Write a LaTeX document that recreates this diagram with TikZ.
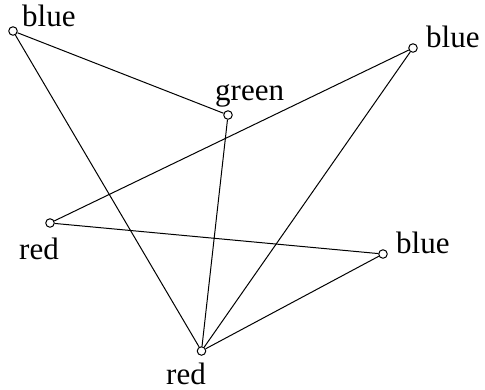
\documentclass[tikz,border=0pt]{standalone}
\usepackage{fontspec}
\setmainfont{Liberation Serif}
\begin{document}
\begin{tikzpicture}[x=1pt,y=-1pt,
  vertex/.style={circle,draw,line width=1pt,minimum size=8.5pt,inner sep=0pt},
  edge/.style={line width=1pt},
  tag/.style={inner sep=0pt,anchor=base west,font=\fontsize{31}{34}\selectfont}]
\useasboundingbox (0,0) rectangle (485,389);
% vertices
\node[vertex] (a) at (13,31) {};
\node[vertex] (b) at (228,115) {};
\node[vertex] (c) at (413,48) {};
\node[vertex] (d) at (50,223) {};
\node[vertex] (e) at (383,254) {};
\node[vertex] (f) at (201.5,351) {};
% labels
\node[tag] (la) at (22,26) {blue};
\node[tag] (lb) at (215,100) {green};
\node[tag] (lc) at (426,47) {blue};
\node[tag] (ld) at (19,259) {red};
\node[tag] (le) at (396,253) {blue};
\node[tag] (lf) at (166,384.5) {red};
% edges
\draw[edge] (a) -- (b);
\draw[edge] (a) -- (f);
\draw[edge] (b) -- (f);
\draw[edge] (c) -- (d);
\draw[edge] (c) -- (f);
\draw[edge] (d) -- (e);
\draw[edge] (e) -- (f);
\end{tikzpicture}
\end{document}
